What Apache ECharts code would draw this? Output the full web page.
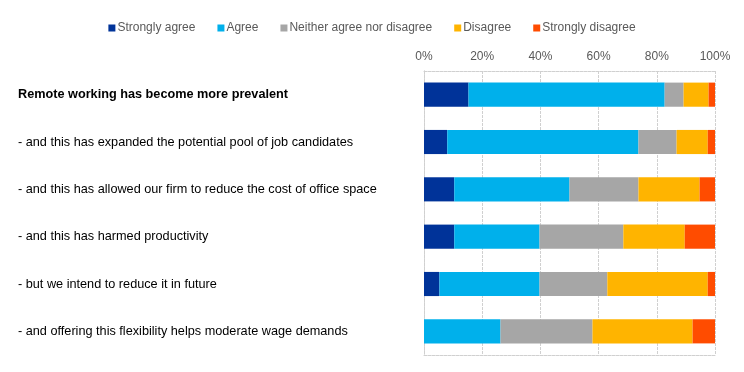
<!DOCTYPE html>
<html><head><meta charset="utf-8">
<script src="https://cdn.jsdelivr.net/npm/echarts@6/dist/echarts.min.js"></script>
<style>html,body{margin:0;padding:0;background:#fff}#c{width:744px;height:372px}</style>
</head><body><div id="c"></div>
<script>
const categories = [
  "Remote working has become more prevalent",
  "- and this has expanded the potential pool of job candidates",
  "- and this has allowed our firm to reduce the cost of office space",
  "- and this has harmed productivity",
  "- but we intend to reduce it in future",
  "- and offering this flexibility helps moderate wage demands"
];
const seriesNames = ["Strongly agree","Agree","Neither agree nor disagree","Disagree","Strongly disagree"];
const stronglyAgree   = [15.3, 8.0, 10.4, 10.4, 5.3, 0];
const agree           = [67.4, 65.7, 39.6, 29.3, 34.4, 26.3];
const neither         = [6.5, 13.1, 23.7, 28.8, 23.3, 31.6];
const disagree        = [8.6, 10.7, 21.0, 21.1, 34.5, 34.4];
const stronglyDisagree= [2.2, 2.5, 5.3, 10.4, 2.5, 7.7];
const colors = ["#003399","#00B0EB","#A6A6A6","#FFB400","#FF4C00"];
const values = [stronglyAgree, agree, neither, disagree, stronglyDisagree];

const dash = {color:'#D0D0D0', type:[3,1], width:1};
const chart = echarts.init(document.getElementById('c'));
chart.setOption({
  animation:false,
  textStyle:{fontFamily:'Liberation Sans, Arial, sans-serif'},
  legend:{
    top:17, left:'center', itemWidth:7, itemHeight:7, itemGap:22,
    icon:'rect',
    textStyle:{color:'#595959', fontSize:12, padding:[0,0,0,-3]},
    data:seriesNames
  },
  grid:{left:424, right:29, top:71, bottom:17},
  xAxis:[{
    type:'value', position:'top', min:0, max:100, interval:20,
    axisLabel:{formatter:'{value}%', color:'#595959', fontSize:12, margin:8},
    axisLine:{show:true, lineStyle:dash}, axisTick:{show:false},
    splitLine:{show:true, lineStyle:dash}
  },{
    type:'value', position:'bottom', min:0, max:100, interval:20,
    axisLabel:{show:false}, axisTick:{show:false},
    axisLine:{show:true, lineStyle:dash}, splitLine:{show:false}
  }],
  yAxis:[{
    type:'category', inverse:true, data:categories,
    axisLine:{show:true, lineStyle:dash},
    axisTick:{show:false},
    axisLabel:{
      align:'left', margin:406, color:'#000', fontSize:12.7,
      formatter:(v,i)=> i===0 ? '{b|'+v+'}' : v,
      rich:{b:{fontWeight:'bold', fontSize:12.7, color:'#000'}}
    }
  },{
    type:'category', position:'right', inverse:true, data:categories,
    axisLine:{show:true, lineStyle:dash},
    axisTick:{show:false}, axisLabel:{show:false}, splitLine:{show:false}
  }],
  series: seriesNames.map((n,k)=>({
    name:n, type:'bar', stack:'all', data:values[k], barWidth:'51%',
    itemStyle:{color:colors[k]}
  }))
});
</script></body></html>
